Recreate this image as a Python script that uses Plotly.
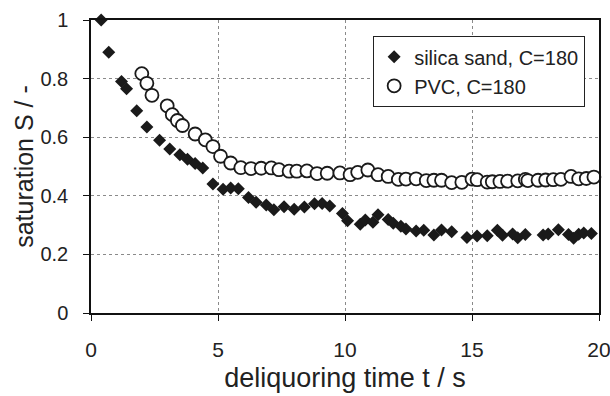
import plotly.graph_objects as go

# silica sand, C=180
sand_t = [0.4, 0.7, 1.2, 1.4, 1.8, 2.2, 2.7, 3.1, 3.5, 3.8, 4.1, 4.4, 4.8, 5.2, 5.5, 5.8,
          6.2, 6.5, 6.9, 7.2, 7.6, 8.0, 8.4, 8.8, 9.1, 9.4, 9.9, 10.1, 10.6, 10.8, 11.1,
          11.3, 11.7, 11.9, 12.2, 12.4, 12.8, 13.1, 13.5, 13.8, 14.2, 14.8, 15.2, 15.6,
          16.0, 16.2, 16.6, 16.8, 17.1, 17.8, 18.0, 18.4, 18.8, 19.0, 19.2, 19.4, 19.7]
sand_S = [1.0, 0.89, 0.79, 0.765, 0.69, 0.635, 0.59, 0.56, 0.54, 0.525, 0.51, 0.495, 0.44,
          0.422, 0.427, 0.424, 0.394, 0.378, 0.369, 0.352, 0.363, 0.354, 0.362, 0.373,
          0.374, 0.365, 0.34, 0.315, 0.303, 0.317, 0.31, 0.335, 0.319, 0.306, 0.296,
          0.287, 0.28, 0.282, 0.266, 0.283, 0.277, 0.258, 0.263, 0.264, 0.282, 0.265,
          0.27, 0.257, 0.268, 0.266, 0.27, 0.284, 0.268, 0.255, 0.269, 0.273, 0.271]

# PVC, C=180
pvc_t = [2.0, 2.2, 2.4, 3.0, 3.2, 3.4, 3.6, 4.1, 4.5, 4.8, 5.1, 5.5, 5.9, 6.3, 6.7, 7.1,
         7.4, 7.8, 8.1, 8.5, 8.9, 9.3, 9.8, 10.2, 10.5, 10.9, 11.3, 11.7, 12.1, 12.4,
         12.8, 13.2, 13.5, 13.8, 14.2, 14.6, 15.0, 15.2, 15.6, 15.8, 16.1, 16.4, 16.8,
         17.1, 17.2, 17.6, 17.9, 18.2, 18.5, 18.9, 19.2, 19.5, 19.8]
pvc_S = [0.817, 0.784, 0.743, 0.707, 0.677, 0.657, 0.64, 0.611, 0.591, 0.568, 0.535,
         0.512, 0.496, 0.493, 0.494, 0.495, 0.489, 0.484, 0.484, 0.485, 0.476, 0.477,
         0.478, 0.472, 0.48, 0.488, 0.472, 0.466, 0.456, 0.457, 0.458, 0.452, 0.453,
         0.453, 0.445, 0.446, 0.457, 0.455, 0.447, 0.448, 0.449, 0.45, 0.451, 0.456,
         0.452, 0.453, 0.454, 0.455, 0.456, 0.466, 0.458, 0.459, 0.464]

x_ticks = [0, 5, 10, 15, 20]
y_ticks = [0, 0.2, 0.4, 0.6, 0.8, 1]

FONT = "Liberation Sans, Arial"
INK = "#222"

fig = go.Figure()
fig.add_trace(go.Scatter(
    x=sand_t, y=sand_S, mode="markers", name="silica sand, C=180",
    marker=dict(symbol="diamond", size=10, color="#1a1a1a", line=dict(width=0)),
    cliponaxis=False))
fig.add_trace(go.Scatter(
    x=pvc_t, y=pvc_S, mode="markers", name="PVC, C=180",
    marker=dict(symbol="circle", size=13, color="white", line=dict(width=1.8, color="#1a1a1a")),
    cliponaxis=False))

axis_common = dict(
    showline=True, linecolor="#111", linewidth=1.5, mirror=True,
    ticks="outside", ticklen=6, tickcolor="#111", tickwidth=1.2,
    showgrid=True, gridcolor="#8a8a8a", griddash="dot", gridwidth=1,
    zeroline=False, automargin=False, ticklabeloverflow="allow",
)

fig.update_xaxes(range=[0, 20], tickvals=x_ticks, ticklabelstandoff=11,
                 tickfont=dict(family=FONT, size=21, color=INK),
                 title=dict(text="deliquoring time t / s", standoff=8,
                            font=dict(family=FONT, size=27, color=INK)),
                 **axis_common)
fig.update_yaxes(range=[0, 1], tickvals=y_ticks, ticklabelstandoff=11,
                 tickfont=dict(family=FONT, size=20, color=INK),
                 title=dict(text="saturation S / -", standoff=0,
                            font=dict(family=FONT, size=25, color=INK)),
                 **axis_common)

fig.update_layout(
    width=610, height=396,
    margin=dict(l=91, r=11, t=20, b=83),
    paper_bgcolor="white", plot_bgcolor="white",
    showlegend=True,
    legend=dict(x=0.555, y=0.945, xanchor="left", yanchor="top",
                bgcolor="white", bordercolor="#222", borderwidth=1.2,
                font=dict(family=FONT, size=20, color=INK),
                tracegroupgap=0, itemwidth=30,
                entrywidth=197, entrywidthmode="pixels"),
)

# remove the page's default 8 px body margin so the figure fills the window exactly
fig.write_html("out.html",
               config={"displayModeBar": False},
               post_script="document.body.style.margin='0';"
                           "document.body.style.overflow='hidden';")
